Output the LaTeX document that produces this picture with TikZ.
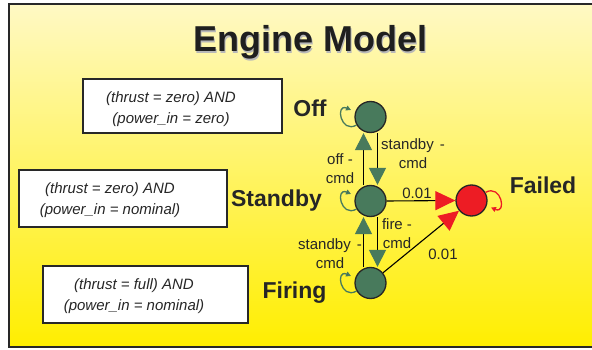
\documentclass[tikz,border=0pt]{standalone}
\usepackage{fontspec}
\setmainfont{Liberation Sans}
\usetikzlibrary{arrows.meta}
\definecolor{stategreen}{RGB}{72,122,92}
\definecolor{failred}{RGB}{237,28,36}
\definecolor{bgtop}{RGB}{255,249,196}
\definecolor{bgbot}{RGB}{255,238,0}
\definecolor{framegray}{RGB}{40,40,40}
\begin{document}
\begin{tikzpicture}[x=1pt,y=-1pt,
  statenode/.style={circle,draw=black!85,line width=1.3pt,fill=stategreen,minimum size=31pt,inner sep=0pt},
  failnode/.style={circle,draw=black!85,line width=1.3pt,fill=failred,minimum size=31pt,inner sep=0pt},
  condbox/.style={rectangle,draw=framegray,line width=1.3pt,fill=white,inner sep=0pt},
  condtext/.style={font=\fontsize{15}{21}\selectfont\itshape,align=center,text=black!85},
  statelabel/.style={font=\fontsize{23}{26}\selectfont\bfseries,text=black!85,anchor=base},
  edgelabel/.style={font=\fontsize{15}{19}\selectfont,align=center,text=black!85},
  garrow/.style={black,line width=1.1pt,-{Triangle[length=17pt,width=17pt,color=stategreen]}},
  rarrow/.style={black,line width=1.1pt,-{Triangle[length=20pt,width=19pt,color=failred]}},
  greenloop/.style={stategreen,line width=1.3pt,-{Triangle[length=5pt,width=5pt,fill=black!80]}},
  redloop/.style={failred,line width=1.3pt,-{Triangle[length=5pt,width=5pt,fill=black!80]}}
]
\useasboundingbox (0,0) rectangle (592,350);
% background and frame
\shade[top color=bgtop,bottom color=bgbot] (9,4) rectangle (592,347);
\draw[framegray,line width=1.6pt] (592,4) -- (9,4) -- (9,347) -- (592,347);
% title
\node[font=\fontsize{36}{40}\selectfont\bfseries,text=black!28,anchor=base] (titleshadow) at (311.7,53.4) {Engine Model};
\node[font=\fontsize{36}{40}\selectfont\bfseries,text=black!88,anchor=base] (title) at (310.5,52) {Engine Model};
% condition boxes
\node[condbox,minimum width=199pt,minimum height=54pt] (box1) at (182.5,106) {};
\node[condtext] (text1) at (171,109) {(thrust = zero) AND\\(power\_in = zero)};
\node[condbox,minimum width=208pt,minimum height=57pt] (box2) at (123,198.5) {};
\node[condtext] (text2) at (110,200) {(thrust = zero) AND\\(power\_in = nominal)};
\node[condbox,minimum width=205pt,minimum height=57pt] (box3) at (145.5,294.5) {};
\node[condtext] (text3) at (134,296) {(thrust = full) AND\\(power\_in = nominal)};
% states
\node[statenode] (off) at (370.5,117) {};
\node[statenode] (stdby) at (370.5,201) {};
\node[statenode] (firing) at (370.5,283) {};
\node[failnode] (failed) at (471.5,200.5) {};
% state labels
\node[statelabel] (offlab) at (310,117) {Off};
\node[statelabel] (stdbylab) at (276.5,207) {Standby};
\node[statelabel] (firinglab) at (294.5,298) {Firing};
\node[statelabel] (failedlab) at (543,193.5) {Failed};
% transitions
\draw[garrow] ([xshift=-7pt]stdby.north) -- ([xshift=-7pt]off.south);
\draw[garrow] ([xshift=7pt]off.south) -- ([xshift=7pt]stdby.north);
\draw[garrow] ([xshift=-7pt]firing.north) -- ([xshift=-7pt]stdby.south);
\draw[garrow] ([xshift=7pt]stdby.south) -- ([xshift=7pt]firing.north);
\draw[rarrow] (stdby.east) -- (failed.west);
\draw[rarrow] (firing) -- (failed);
% edge labels
\node[edgelabel] (l1) at (340,169) {off -\\cmd};
\node[edgelabel] (l2) at (413,154) {standby\hspace{6pt}-\\cmd};
\node[edgelabel] (l3) at (330,254) {standby\hspace{6pt}-\\cmd};
\node[edgelabel] (l4) at (397,234) {fire -\\cmd};
\node[edgelabel] (p1) at (417,193) {0.01};
\node[edgelabel] (p2) at (443,254) {0.01};
% self loops
\coordinate (offtip) at (351,110);
\coordinate (stdbytip) at (351,194);
\coordinate (firingtip) at (351,276);
\coordinate (failtip) at (491,207.5);
\draw[greenloop] (off.210) .. controls +(-16,9) and +(-16,-7) .. (offtip);
\draw[greenloop] (stdby.210) .. controls +(-16,9) and +(-16,-7) .. (stdbytip);
\draw[greenloop] (firing.210) .. controls +(-16,9) and +(-16,-7) .. (firingtip);
\draw[redloop] (failed.30) .. controls +(16,-9) and +(16,7) .. (failtip);
\end{tikzpicture}
\end{document}
